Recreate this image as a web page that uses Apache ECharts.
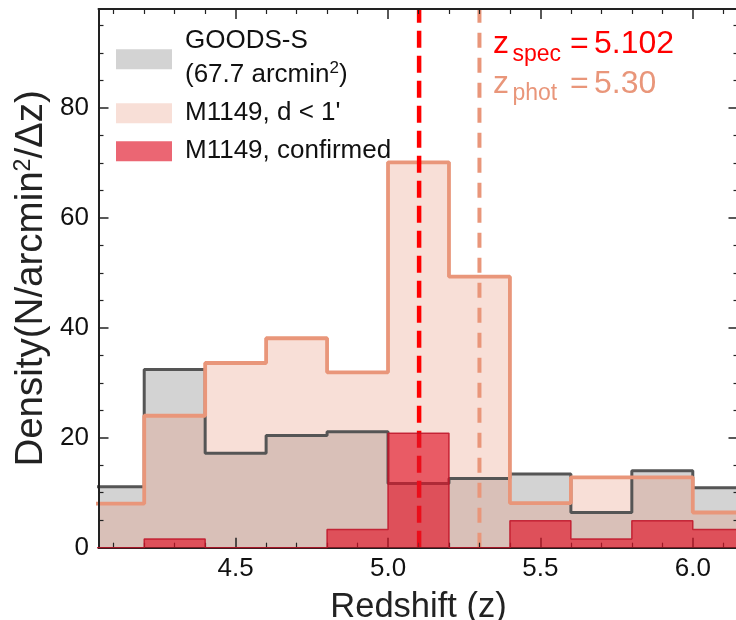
<!DOCTYPE html>
<html>
<head>
<meta charset="utf-8">
<script src="https://cdn.jsdelivr.net/npm/echarts@6/dist/echarts.min.js"></script>
<style>
  html, body { margin: 0; padding: 0; background: #fff; }
  #chart { width: 736px; height: 620px; }
</style>
</head>
<body>
<div id="chart"></div>
<script>
// ---------------- data ----------------
const binEdges = [4.0, 4.2, 4.4, 4.6, 4.8, 5.0, 5.2, 5.4, 5.6, 5.8, 6.0, 6.2];
const goodsS = [11.1, 32.4, 17.2, 20.4, 21.1, 11.7, 12.6, 13.4, 6.4, 14.0, 10.9];
const m1149Near = [8.0, 24.0, 33.6, 38.1, 31.9, 70.1, 49.3, 8.1, 12.8, 12.8, 6.4];
const m1149Confirmed = [0, 1.6, 0, 0, 3.3, 20.8, 0, 4.9, 1.6, 4.9, 3.3];
const zSpec = 5.102;
const zPhot = 5.30;
const goodsArea = '67.7';
const seriesNames = ['GOODS-S', "M1149, d < 1'", 'M1149, confirmed'];
const xMajorTicks = [4.5, 5.0, 5.5, 6.0];
const xMinorTicks = [4.1, 4.2, 4.3, 4.4, 4.6, 4.7, 4.8, 4.9, 5.1, 5.2, 5.3, 5.4, 5.6, 5.7, 5.8, 5.9, 6.1];
const yMajorTicks = [0, 20, 40, 60, 80];
const yMinorTicks = [5, 10, 15, 25, 30, 35, 45, 50, 55, 65, 70, 75, 85, 90, 95];
const X_MIN = 4.05, X_MAX = 6.15, Y_MIN = 0, Y_MAX = 98;

// ---------------- styling ----------------
const FONT = 'Liberation Sans';
const AX = '#222';
const GRAY_FILL = '#d3d3d3';
const GRAY_EDGE = '#555555';
const SALMON = '#e9967a';
const SALMON_FILL = 'rgba(233,150,122,0.3)';
const RED_FILL = 'rgba(225,20,40,0.65)';
const RED_EDGE = 'rgba(190,20,40,0.85)';

function stepData(vals) {
  return binEdges.map((e, i) => [e, vals[Math.min(i, vals.length - 1)]]);
}

function xAx(position, ticks, major, extra) {
  return Object.assign({
    type: 'value', min: X_MIN, max: X_MAX, position: position, z: 3,
    axisLine: { show: major, onZero: false, lineStyle: { color: AX, width: 2 } },
    axisTick: { show: true, inside: true, length: major ? 10 : 5, customValues: ticks,
                lineStyle: { color: AX, width: major ? 1.5 : 1.2 } },
    axisLabel: { show: false },
    splitLine: { show: false }
  }, extra || {});
}
function yAx(position, ticks, major, showLine, extra) {
  return Object.assign({
    type: 'value', min: Y_MIN, max: Y_MAX, position: position, z: 3,
    axisLine: { show: showLine, onZero: false, lineStyle: { color: AX, width: 2 } },
    axisTick: { show: true, inside: true, length: major ? 10 : 5, customValues: ticks,
                lineStyle: { color: AX, width: major ? 1.5 : 1.2 } },
    axisLabel: { show: false },
    splitLine: { show: false }
  }, extra || {});
}

const chart = echarts.init(document.getElementById('chart'), null, { renderer: 'canvas' });

function annot(y, sub, value, color) {
  return { type: 'text', x: 493, y: y, z: 10,
    style: { text: '{z|z}{sub|' + sub + '}{eq|=}{num|' + value + '}', verticalAlign: 'top', align: 'left',
      rich: {
        z: { fontSize: 32, lineHeight: 44, width: 19.5, fill: color, fontFamily: FONT },
        sub: { fontSize: 23, lineHeight: 22, padding: [20, 0, 0, 0], width: 57.5, fill: color, fontFamily: FONT },
        eq: { fontSize: 32, lineHeight: 44, width: 24, fill: color, fontFamily: FONT },
        num: { fontSize: 32, lineHeight: 44, fill: color, fontFamily: FONT }
      } } };
}

const option = {
  animation: false,
  backgroundColor: '#fff',
  textStyle: { fontFamily: FONT },
  grid: { left: 98.5, top: 9, width: 640, height: 538.7, outerBoundsMode: 'none', containLabel: false },
  xAxis: [
    xAx('bottom', xMajorTicks, true, {
      axisLabel: { show: true, customValues: xMajorTicks, formatter: v => v.toFixed(1),
                   margin: 8, fontSize: 26, color: '#111', fontFamily: FONT },
      name: 'Redshift (z)', nameLocation: 'middle', nameGap: 42, nameMoveOverlap: false,
      nameTextStyle: { fontSize: 34.5, color: AX, fontFamily: FONT }
    }),
    xAx('bottom', xMinorTicks, false),
    xAx('top', xMajorTicks, true),
    xAx('top', xMinorTicks, false)
  ],
  yAxis: [
    yAx('left', yMajorTicks, true, true, {
      axisLabel: { show: true, customValues: yMajorTicks, formatter: v => String(v),
                   margin: 9.5, fontSize: 26, color: '#111', fontFamily: FONT },
      name: 'Density(N/arcmin{sup|2}/Δz)', nameLocation: 'middle', nameGap: 46, nameMoveOverlap: false,
      nameTextStyle: { fontSize: 38.5, lineHeight: 42, color: AX, fontFamily: FONT,
        rich: { sup: { fontSize: 23, lineHeight: 23, padding: [0, 0, 15, 0], color: AX, fontFamily: FONT } } }
    }),
    yAx('left', yMinorTicks, false, false),
    yAx('right', yMajorTicks, true, false),
    yAx('right', yMinorTicks, false, false)
  ],
  legend: [
    {
      data: [{ name: seriesNames[0], icon: 'rect', itemStyle: { color: GRAY_FILL, borderWidth: 0 } }],
      orient: 'vertical', left: 116, top: 24.3, padding: 0,
      itemWidth: 56, itemHeight: 20, selectedMode: false,
      formatter: n => n + '\n(' + goodsArea + ' arcmin{sup|2})',
      textStyle: { fontSize: 26, lineHeight: 34, color: '#111', fontFamily: FONT, padding: [0, 0, 2, 8],
        rich: { sup: { fontSize: 17, lineHeight: 17, padding: [0, 0, 13, 0], color: '#111', fontFamily: FONT } } }
    },
    {
      data: [
        { name: seriesNames[1], icon: 'rect', itemStyle: { color: SALMON_FILL, borderWidth: 0 } },
        { name: seriesNames[2], icon: 'rect', itemStyle: { color: RED_FILL, borderWidth: 0 } }
      ],
      orient: 'vertical', left: 116, top: 94.3, padding: 0, itemGap: 0,
      itemWidth: 56, itemHeight: 20, selectedMode: false,
      textStyle: { fontSize: 26, lineHeight: 28, color: '#111', fontFamily: FONT, padding: [10, 0, 0, 8] }
    }
  ],
  series: [
    { name: seriesNames[0], type: 'line', step: 'end', data: stepData(goodsS), symbol: 'none', z: 2,
      itemStyle: { color: GRAY_FILL }, lineStyle: { width: 0, color: GRAY_FILL },
      areaStyle: { color: GRAY_FILL, opacity: 1 }, silent: true },
    { name: seriesNames[1], type: 'line', step: 'end', data: stepData(m1149Near), symbol: 'none', z: 2,
      itemStyle: { color: SALMON_FILL }, lineStyle: { width: 0, color: SALMON_FILL },
      areaStyle: { color: SALMON_FILL, opacity: 1 }, silent: true },
    { name: 'GOODS-S edge', type: 'line', step: 'end', data: stepData(goodsS), symbol: 'none', z: 2,
      lineStyle: { width: 3, color: GRAY_EDGE }, silent: true },
    { name: 'M1149 edge', type: 'line', step: 'end', data: stepData(m1149Near), symbol: 'none', z: 2,
      lineStyle: { width: 3.8, color: SALMON }, silent: true },
    { name: 'z_phot', type: 'line', data: [[zPhot, Y_MIN], [zPhot, Y_MAX]], symbol: 'none', z: 2,
      lineStyle: { width: 4, color: SALMON, type: [15, 10] }, silent: true },
    { name: 'z_spec', type: 'line', data: [[zSpec, Y_MIN], [zSpec, Y_MAX]], symbol: 'none', z: 2,
      lineStyle: { width: 4.5, color: '#ff0000', type: [17, 8] }, silent: true },
    { name: seriesNames[2], type: 'line', step: 'end', data: stepData(m1149Confirmed), symbol: 'none', z: 4,
      itemStyle: { color: RED_FILL }, lineStyle: { width: 1.5, color: RED_EDGE },
      areaStyle: { color: RED_FILL, opacity: 1 }, silent: true }
  ],
  graphic: [
    annot(22.5, 'spec', zSpec.toFixed(3), '#ff0000'),
    annot(62, 'phot', zPhot.toFixed(2), SALMON)
  ]
};
chart.setOption(option);
</script>
</body>
</html>
